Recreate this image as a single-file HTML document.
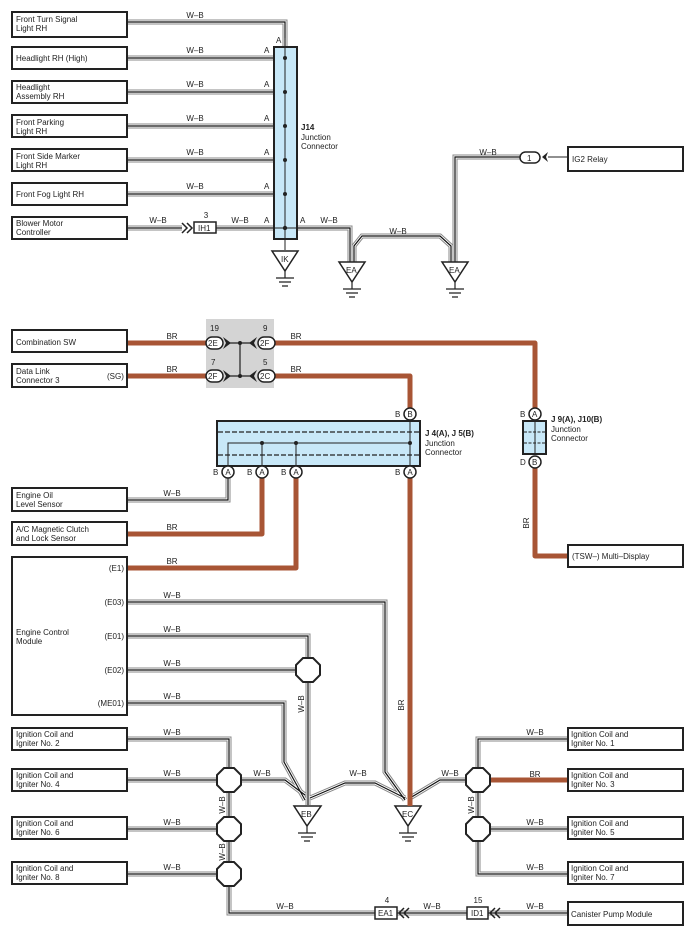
<!DOCTYPE html>
<html><head><meta charset="utf-8"><style>
html,body{margin:0;padding:0;background:#fff;}
svg{display:block;}
text{font-family:"Liberation Sans",sans-serif;font-size:8px;fill:#222;}
</style></head><body>
<svg width="695" height="945" viewBox="0 0 695 945" xmlns="http://www.w3.org/2000/svg">
<defs>
<g id="wb" fill="none">
<path d="M127 22H285V47"/>
<path d="M127 58H285M127 92H285M127 126H285M127 160H285M127 194H285"/>
<path d="M127 228H182M216 228H285"/>
<path d="M297 228H350V262"/>
<path d="M354 262V246L362 236H440L451 246V262"/>
<path d="M455 262V157H520"/>
<path d="M127 500H228V478"/>
<path d="M127 602H385V772L405 800"/>
<path d="M127 636H308V658"/>
<path d="M127 670H296"/>
<path d="M308 682V805"/>
<path d="M127 703H284V762L305 800"/>
<path d="M127 739H229V768"/>
<path d="M127 780H217"/>
<path d="M241 780H285L305 795"/>
<path d="M127 829H217M127 874H217"/>
<path d="M229 792V817M229 841V862"/>
<path d="M229 886V913H375"/>
<path d="M310 798L345 783H375L405 798"/>
<path d="M410 798L440 780H466"/>
<path d="M568 739H478V768"/>
<path d="M478 792V817"/>
<path d="M490 829H568"/>
<path d="M478 841V874H568"/>
<path d="M397 913H467M488 913H568"/>
</g>
</defs>
<use href="#wb" stroke="#888" stroke-width="5"/>
<use href="#wb" stroke="#fff" stroke-width="3"/>
<use href="#wb" stroke="#111" stroke-width="1.2"/>

<g fill="#fff" stroke="#222" stroke-width="2">
<rect x="12" y="12" width="115" height="25"/>
<rect x="12" y="47" width="115" height="22"/>
<rect x="12" y="81" width="115" height="22"/>
<rect x="12" y="115" width="115" height="22"/>
<rect x="12" y="149" width="115" height="22"/>
<rect x="12" y="183" width="115" height="22"/>
<rect x="12" y="217" width="115" height="22"/>
<rect x="568" y="147" width="115" height="24"/>
</g>
<text x="16" y="22">Front Turn Signal</text><text x="16" y="31">Light RH</text>
<text x="16" y="61">Headlight RH (High)</text>
<text x="16" y="90">Headlight</text><text x="16" y="99">Assembly RH</text>
<text x="16" y="125">Front Parking</text><text x="16" y="134">Light RH</text>
<text x="16" y="159">Front Side Marker</text><text x="16" y="168">Light RH</text>
<text x="16" y="197">Front Fog Light RH</text>
<text x="16" y="226">Blower Motor</text><text x="16" y="235">Controller</text>
<text x="572" y="162">IG2 Relay</text>
<g text-anchor="middle">
<text x="195" y="18">W–B</text><text x="195" y="53">W–B</text><text x="195" y="87">W–B</text>
<text x="195" y="121">W–B</text><text x="195" y="155">W–B</text><text x="195" y="189">W–B</text>
<text x="158" y="223">W–B</text><text x="240" y="223">W–B</text><text x="329" y="223">W–B</text>
<text x="398" y="234">W–B</text><text x="488" y="155">W–B</text>
<text x="206" y="218">3</text>
</g>
<text x="276" y="43">A</text>
<text x="264" y="53">A</text><text x="264" y="87">A</text><text x="264" y="121">A</text><text x="264" y="155">A</text><text x="264" y="189">A</text><text x="264" y="223">A</text>
<text x="300" y="223">A</text>
<rect x="274" y="47" width="23" height="192" fill="#c8e8f8" stroke="#222" stroke-width="2"/>
<line x1="285" y1="38" x2="285" y2="250" stroke="#222" stroke-width="1"/>
<line x1="274" y1="228" x2="297" y2="228" stroke="#222" stroke-width="1"/>
<g fill="#222"><circle cx="285" cy="58" r="2"/><circle cx="285" cy="92" r="2"/><circle cx="285" cy="126" r="2"/><circle cx="285" cy="160" r="2"/><circle cx="285" cy="194" r="2"/><circle cx="285" cy="228" r="2.2"/></g>
<text x="301" y="130" font-weight="bold">J14</text><text x="301" y="140">Junction</text><text x="301" y="149">Connector</text>
<rect x="194" y="222" width="22" height="11" fill="#fff" stroke="#222" stroke-width="1.5"/>
<text x="198" y="231">IH1</text>
<path d="M182 223l5 5-5 5M187 223l5 5-5 5" fill="none" stroke="#222" stroke-width="1.5"/>
<rect x="520" y="152" width="20" height="11" rx="5.5" fill="#fff" stroke="#222" stroke-width="1.5"/>
<text x="527" y="161">1</text>
<path d="M542 157l6-5-2 5 2 5z" fill="#222"/><line x1="548" y1="157" x2="568" y2="157" stroke="#222"/>

<g fill="#fff" stroke="#222" stroke-width="1.5">
<path d="M272 251H298L285 271Z"/><path d="M339 262H365L352 282Z"/><path d="M442 262H468L455 282Z"/>
<path d="M294 806H321L307 826Z"/><path d="M395 806H421L408 826Z"/>
</g>
<g stroke="#222" stroke-width="1.2">
<path d="M285 271V278M276 278H294M279 282H291M282 286H288"/>
<path d="M352 282V289M343 289H361M346 293H358M349 297H355"/>
<path d="M455 282V289M446 289H464M449 293H461M452 297H458"/>
<path d="M307 826V833M298 833H316M301 837H313M304 841H310"/>
<path d="M408 826V833M399 833H417M402 837H414M405 841H411"/>
</g>
<text x="281" y="262">IK</text><text x="346" y="273">EA</text><text x="449" y="273">EA</text>
<text x="301" y="817">EB</text><text x="402" y="817">EC</text>

<g fill="none" stroke="#a85535" stroke-width="5" stroke-linejoin="round">
<path d="M127 343H206M274 343H535V408"/>
<path d="M127 376H206M274 376H410V408"/>
<path d="M535 468V556H568"/>
<path d="M127 534H262V478"/>
<path d="M127 568H296V478"/>
<path d="M410 478V806"/>
<path d="M490 780H568"/>
</g>
<text x="172" y="339" text-anchor="middle">BR</text><text x="172" y="372" text-anchor="middle">BR</text>
<text x="296" y="339" text-anchor="middle">BR</text><text x="296" y="372" text-anchor="middle">BR</text>
<text x="172" y="530" text-anchor="middle">BR</text><text x="172" y="564" text-anchor="middle">BR</text>
<text x="535" y="777" text-anchor="middle">BR</text>
<text transform="translate(404,705) rotate(-90)" text-anchor="middle">BR</text>
<text transform="translate(529,523) rotate(-90)" text-anchor="middle">BR</text>

<g fill="#fff" stroke="#222" stroke-width="2">
<rect x="12" y="330" width="115" height="22"/>
<rect x="12" y="364" width="115" height="23"/>
<rect x="12" y="488" width="115" height="23"/>
<rect x="12" y="522" width="115" height="23"/>
<rect x="12" y="557" width="115" height="158"/>
<rect x="568" y="545" width="115" height="22"/>
</g>
<text x="16" y="345">Combination SW</text>
<text x="16" y="374">Data Link</text><text x="16" y="383">Connector 3</text><text x="107" y="379">(SG)</text>
<text x="16" y="498">Engine Oil</text><text x="16" y="507">Level Sensor</text>
<text x="16" y="532">A/C Magnetic Clutch</text><text x="16" y="541">and Lock Sensor</text>
<text x="16" y="635">Engine Control</text><text x="16" y="644">Module</text>
<g text-anchor="end"><text x="124" y="571">(E1)</text><text x="124" y="605">(E03)</text><text x="124" y="639">(E01)</text><text x="124" y="673">(E02)</text><text x="124" y="706">(ME01)</text></g>
<text x="572" y="559">(TSW–)  Multi–Display</text>
<g text-anchor="middle">
<text x="172" y="496">W–B</text><text x="172" y="598">W–B</text><text x="172" y="632">W–B</text><text x="172" y="666">W–B</text><text x="172" y="699">W–B</text>
</g>
<text transform="translate(304,704) rotate(-90)" text-anchor="middle">W–B</text>

<rect x="206" y="319" width="68" height="69" fill="#d4d4d4"/>
<line x1="240" y1="343" x2="240" y2="376" stroke="#222" stroke-width="1.2"/>
<line x1="230" y1="343" x2="250" y2="343" stroke="#222" stroke-width="1.2"/>
<line x1="230" y1="376" x2="250" y2="376" stroke="#222" stroke-width="1.2"/>
<circle cx="240" cy="343" r="2" fill="#222"/><circle cx="240" cy="376" r="2" fill="#222"/>
<g fill="#222">
<path d="M223 337l8 6-8 6 3-6z"/><path d="M257 337l-8 6 8 6-3-6z"/>
<path d="M223 370l8 6-8 6 3-6z"/><path d="M257 370l-8 6 8 6-3-6z"/>
</g>
<g fill="#fff" stroke="#222" stroke-width="1.5">
<rect x="206" y="337" width="17" height="12" rx="6"/><rect x="258" y="337" width="17" height="12" rx="6"/>
<rect x="206" y="370" width="17" height="12" rx="6"/><rect x="258" y="370" width="17" height="12" rx="6"/>
</g>
<text x="208" y="346">2E</text><text x="260" y="346">2F</text><text x="208" y="379">2F</text><text x="260" y="379">2C</text>
<text x="210" y="331">19</text><text x="263" y="331">9</text><text x="211" y="365">7</text><text x="263" y="365">5</text>

<rect x="217" y="421" width="203" height="45" fill="#c8e8f8" stroke="#222" stroke-width="2"/>
<g stroke="#222" stroke-width="1.2" stroke-dasharray="5,2"><line x1="218" y1="432" x2="419" y2="432"/><line x1="218" y1="455" x2="419" y2="455"/></g>
<path d="M228 466V443H410M262 443V466M296 443V466M410 420V466" fill="none" stroke="#222" stroke-width="1"/>
<g fill="#222"><circle cx="262" cy="443" r="2"/><circle cx="296" cy="443" r="2"/><circle cx="410" cy="443" r="2"/></g>
<g fill="#fff" stroke="#222" stroke-width="1.5">
<circle cx="228" cy="472" r="6"/><circle cx="262" cy="472" r="6"/><circle cx="296" cy="472" r="6"/><circle cx="410" cy="472" r="6"/><circle cx="410" cy="414" r="6"/>
</g>
<g text-anchor="middle"><text x="228" y="475">A</text><text x="262" y="475">A</text><text x="296" y="475">A</text><text x="410" y="475">A</text><text x="410" y="417">B</text></g>
<text x="213" y="475">B</text><text x="247" y="475">B</text><text x="281" y="475">B</text><text x="395" y="475">B</text><text x="395" y="417">B</text>
<text x="425" y="436" font-weight="bold">J 4(A), J 5(B)</text><text x="425" y="446">Junction</text><text x="425" y="455">Connector</text>

<rect x="523" y="421" width="23" height="33" fill="#c8e8f8" stroke="#222" stroke-width="2"/>
<g stroke="#222" stroke-width="1" stroke-dasharray="3,1.5"><line x1="524" y1="432" x2="545" y2="432"/><line x1="524" y1="443" x2="545" y2="443"/></g>
<line x1="535" y1="421" x2="535" y2="454" stroke="#222"/>
<g fill="#fff" stroke="#222" stroke-width="1.5"><circle cx="535" cy="414" r="6"/><circle cx="535" cy="462" r="6"/></g>
<text x="532" y="417">A</text><text x="532" y="465">B</text><text x="520" y="417">B</text><text x="520" y="465">D</text>
<text x="551" y="422" font-weight="bold">J 9(A), J10(B)</text><text x="551" y="432">Junction</text><text x="551" y="441">Connector</text>

<g fill="#fff" stroke="#222" stroke-width="2">
<rect x="12" y="728" width="115" height="22"/><rect x="12" y="769" width="115" height="22"/>
<rect x="12" y="817" width="115" height="22"/><rect x="12" y="862" width="115" height="22"/>
<rect x="568" y="728" width="115" height="22"/><rect x="568" y="769" width="115" height="22"/>
<rect x="568" y="817" width="115" height="22"/><rect x="568" y="862" width="115" height="22"/>
<rect x="568" y="902" width="115" height="23"/>
</g>
<text x="16" y="737">Ignition Coil and</text><text x="16" y="746">Igniter No. 2</text>
<text x="16" y="778">Ignition Coil and</text><text x="16" y="787">Igniter No. 4</text>
<text x="16" y="826">Ignition Coil and</text><text x="16" y="835">Igniter No. 6</text>
<text x="16" y="871">Ignition Coil and</text><text x="16" y="880">Igniter No. 8</text>
<text x="571" y="737">Ignition Coil and</text><text x="571" y="746">Igniter No. 1</text>
<text x="571" y="778">Ignition Coil and</text><text x="571" y="787">Igniter No. 3</text>
<text x="571" y="826">Ignition Coil and</text><text x="571" y="835">Igniter No. 5</text>
<text x="571" y="871">Ignition Coil and</text><text x="571" y="880">Igniter No. 7</text>
<text x="571" y="917">Canister Pump Module</text>
<g text-anchor="middle">
<text x="172" y="735">W–B</text><text x="172" y="776">W–B</text><text x="172" y="825">W–B</text><text x="172" y="870">W–B</text>
<text x="262" y="776">W–B</text><text x="358" y="776">W–B</text><text x="450" y="776">W–B</text>
<text x="535" y="735">W–B</text><text x="535" y="825">W–B</text><text x="535" y="870">W–B</text>
<text x="285" y="909">W–B</text><text x="432" y="909">W–B</text><text x="535" y="909">W–B</text>
<text x="387" y="903">4</text><text x="478" y="903">15</text>
</g>
<text transform="translate(225,805) rotate(-90)" text-anchor="middle">W–B</text>
<text transform="translate(225,852) rotate(-90)" text-anchor="middle">W–B</text>
<text transform="translate(474,805) rotate(-90)" text-anchor="middle">W–B</text>
<g fill="#fff" stroke="#222" stroke-width="2">
<path d="M303 658h10l7 7v10l-7 7h-10l-7-7v-10z"/>
<path d="M224 768h10l7 7v10l-7 7h-10l-7-7v-10z"/>
<path d="M224 817h10l7 7v10l-7 7h-10l-7-7v-10z"/>
<path d="M224 862h10l7 7v10l-7 7h-10l-7-7v-10z"/>
<path d="M473 768h10l7 7v10l-7 7h-10l-7-7v-10z"/>
<path d="M473 817h10l7 7v10l-7 7h-10l-7-7v-10z"/>
</g>
<rect x="375" y="907" width="22" height="12" fill="#fff" stroke="#222" stroke-width="1.5"/><text x="378" y="916">EA1</text>
<rect x="467" y="907" width="21" height="12" fill="#fff" stroke="#222" stroke-width="1.5"/><text x="471" y="916">ID1</text>
<path d="M404 908l-5 5 5 5M409 908l-5 5 5 5M495 908l-5 5 5 5M500 908l-5 5 5 5" fill="none" stroke="#222" stroke-width="1.5"/>
</svg>
</body></html>
